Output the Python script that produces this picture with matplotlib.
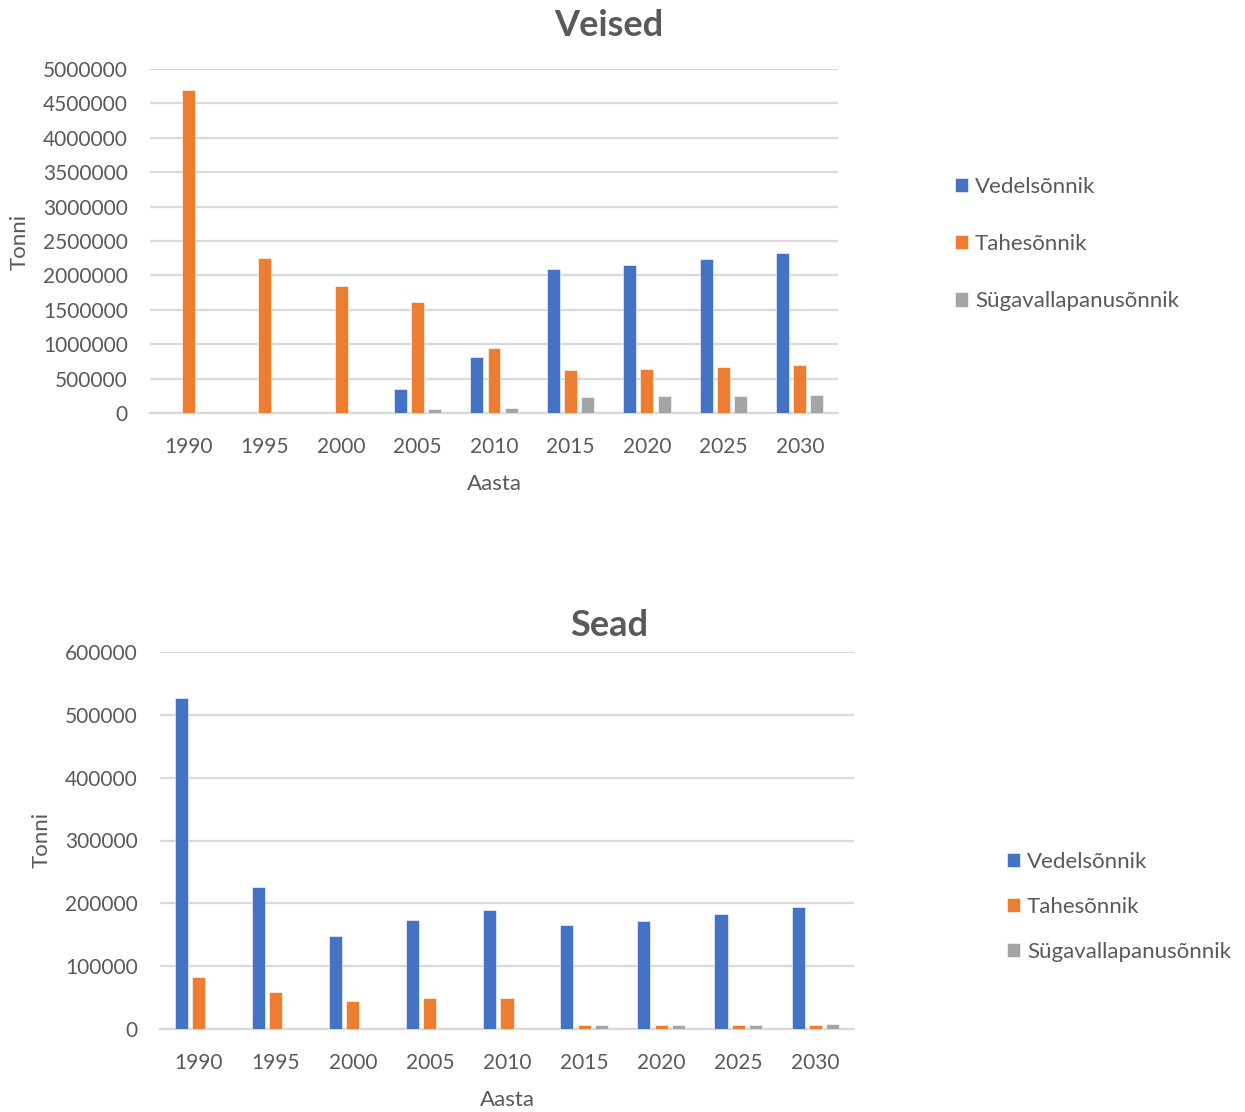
"""Sõnniku kogused: veised ja sead, 1990-2030."""
import numpy as np
import matplotlib.pyplot as plt

aastad = ['1990', '1995', '2000', '2005', '2010', '2015', '2020', '2025', '2030']
seeriad = ['Vedelsõnnik', 'Tahesõnnik', 'Sügavallapanusõnnik']

# Veised (tonni)
veised_vedel = [0, 0, 0, 354000, 820000, 2087000, 2150000, 2233000, 2320000]
veised_tahe = [4700000, 2257000, 1845000, 1616000, 951000, 626000, 646000, 670000, 694000]
veised_sygav = [0, 0, 0, 63000, 78000, 238000, 243000, 252000, 267000]

# Sead (tonni)
sead_vedel = [527000, 226600, 148400, 172900, 188900, 166000, 172400, 183500, 194200]
sead_tahe = [83500, 59600, 44700, 49000, 50000, 5900, 5900, 6900, 6900]
sead_sygav = [0, 0, 0, 0, 0, 6400, 6900, 6900, 7400]

COLORS = ['#4472C4', '#ED7D31', '#A5A5A5']
TXT = '#595959'
GRID = '#D9D9D9'

plt.rcParams['font.family'] = ['Lato', 'DejaVu Sans']
plt.rcParams['font.size'] = 15

W, H = 1245, 1112
fig = plt.figure(figsize=(W / 100, H / 100), dpi=100)


def px(x, y):
    return x / W, 1 - y / H


def joonis(rect, andmed, yticks, title, title_xy, ylab_xy, xlab_xy, leg_xy, legspace):
    ax = fig.add_axes(rect)
    x = np.arange(len(aastad))
    step, width = 0.225, 0.17
    for i, (vals, col) in enumerate(zip(andmed, COLORS)):
        ax.bar(x + (i - 1) * step, vals, width=width, color=col,
               edgecolor='white', linewidth=0.4, label=seeriad[i], zorder=3)
    ax.set_xlim(-0.5, len(aastad) - 0.5)
    ax.set_ylim(0, yticks[-1])
    ax.set_yticks(yticks)
    ax.set_yticklabels([str(v) for v in yticks], color=TXT)
    ax.set_xticks(x)
    ax.set_xticklabels(aastad, color=TXT)
    ax.tick_params(axis='both', length=0)
    ax.tick_params(axis='y', pad=16)
    ax.tick_params(axis='x', pad=17)
    ax.grid(axis='y', color=GRID, linewidth=1.6, zorder=0)
    for s in ['top', 'right', 'left']:
        ax.spines[s].set_visible(False)
    ax.spines['bottom'].set_color(GRID)
    ax.spines['bottom'].set_linewidth(1.6)

    fig.text(*px(*title_xy), title, ha='center', va='center',
             fontsize=26, fontweight='bold', color=TXT)
    fig.text(*px(*ylab_xy), 'Tonni', ha='center', va='center',
             rotation=90, color=TXT, fontsize=16)
    fig.text(*px(*xlab_xy), 'Aasta', ha='center', va='center',
             color=TXT, fontsize=16)
    fig.legend(*ax.get_legend_handles_labels(), loc='center left',
               bbox_to_anchor=px(*leg_xy), frameon=False, borderpad=0,
               borderaxespad=0, handlelength=0.6, handleheight=0.6,
               handletextpad=0.3, labelspacing=legspace, labelcolor=TXT,
               fontsize=16)
    return ax


joonis([150 / W, 1 - 413 / H, 688 / W, 344 / H],
       [veised_vedel, veised_tahe, veised_sygav],
       list(range(0, 5000001, 500000)), 'Veised',
       (609, 25), (20, 242), (494, 484), (955, 244), 1.68)

joonis([160 / W, 1 - 1029 / H, 694 / W, 377 / H],
       [sead_vedel, sead_tahe, sead_sygav],
       list(range(0, 600001, 100000)), 'Sead',
       (609, 626), (42, 840), (507, 1100), (1007, 907), 1.12)

fig.savefig('out.png', dpi=100)
